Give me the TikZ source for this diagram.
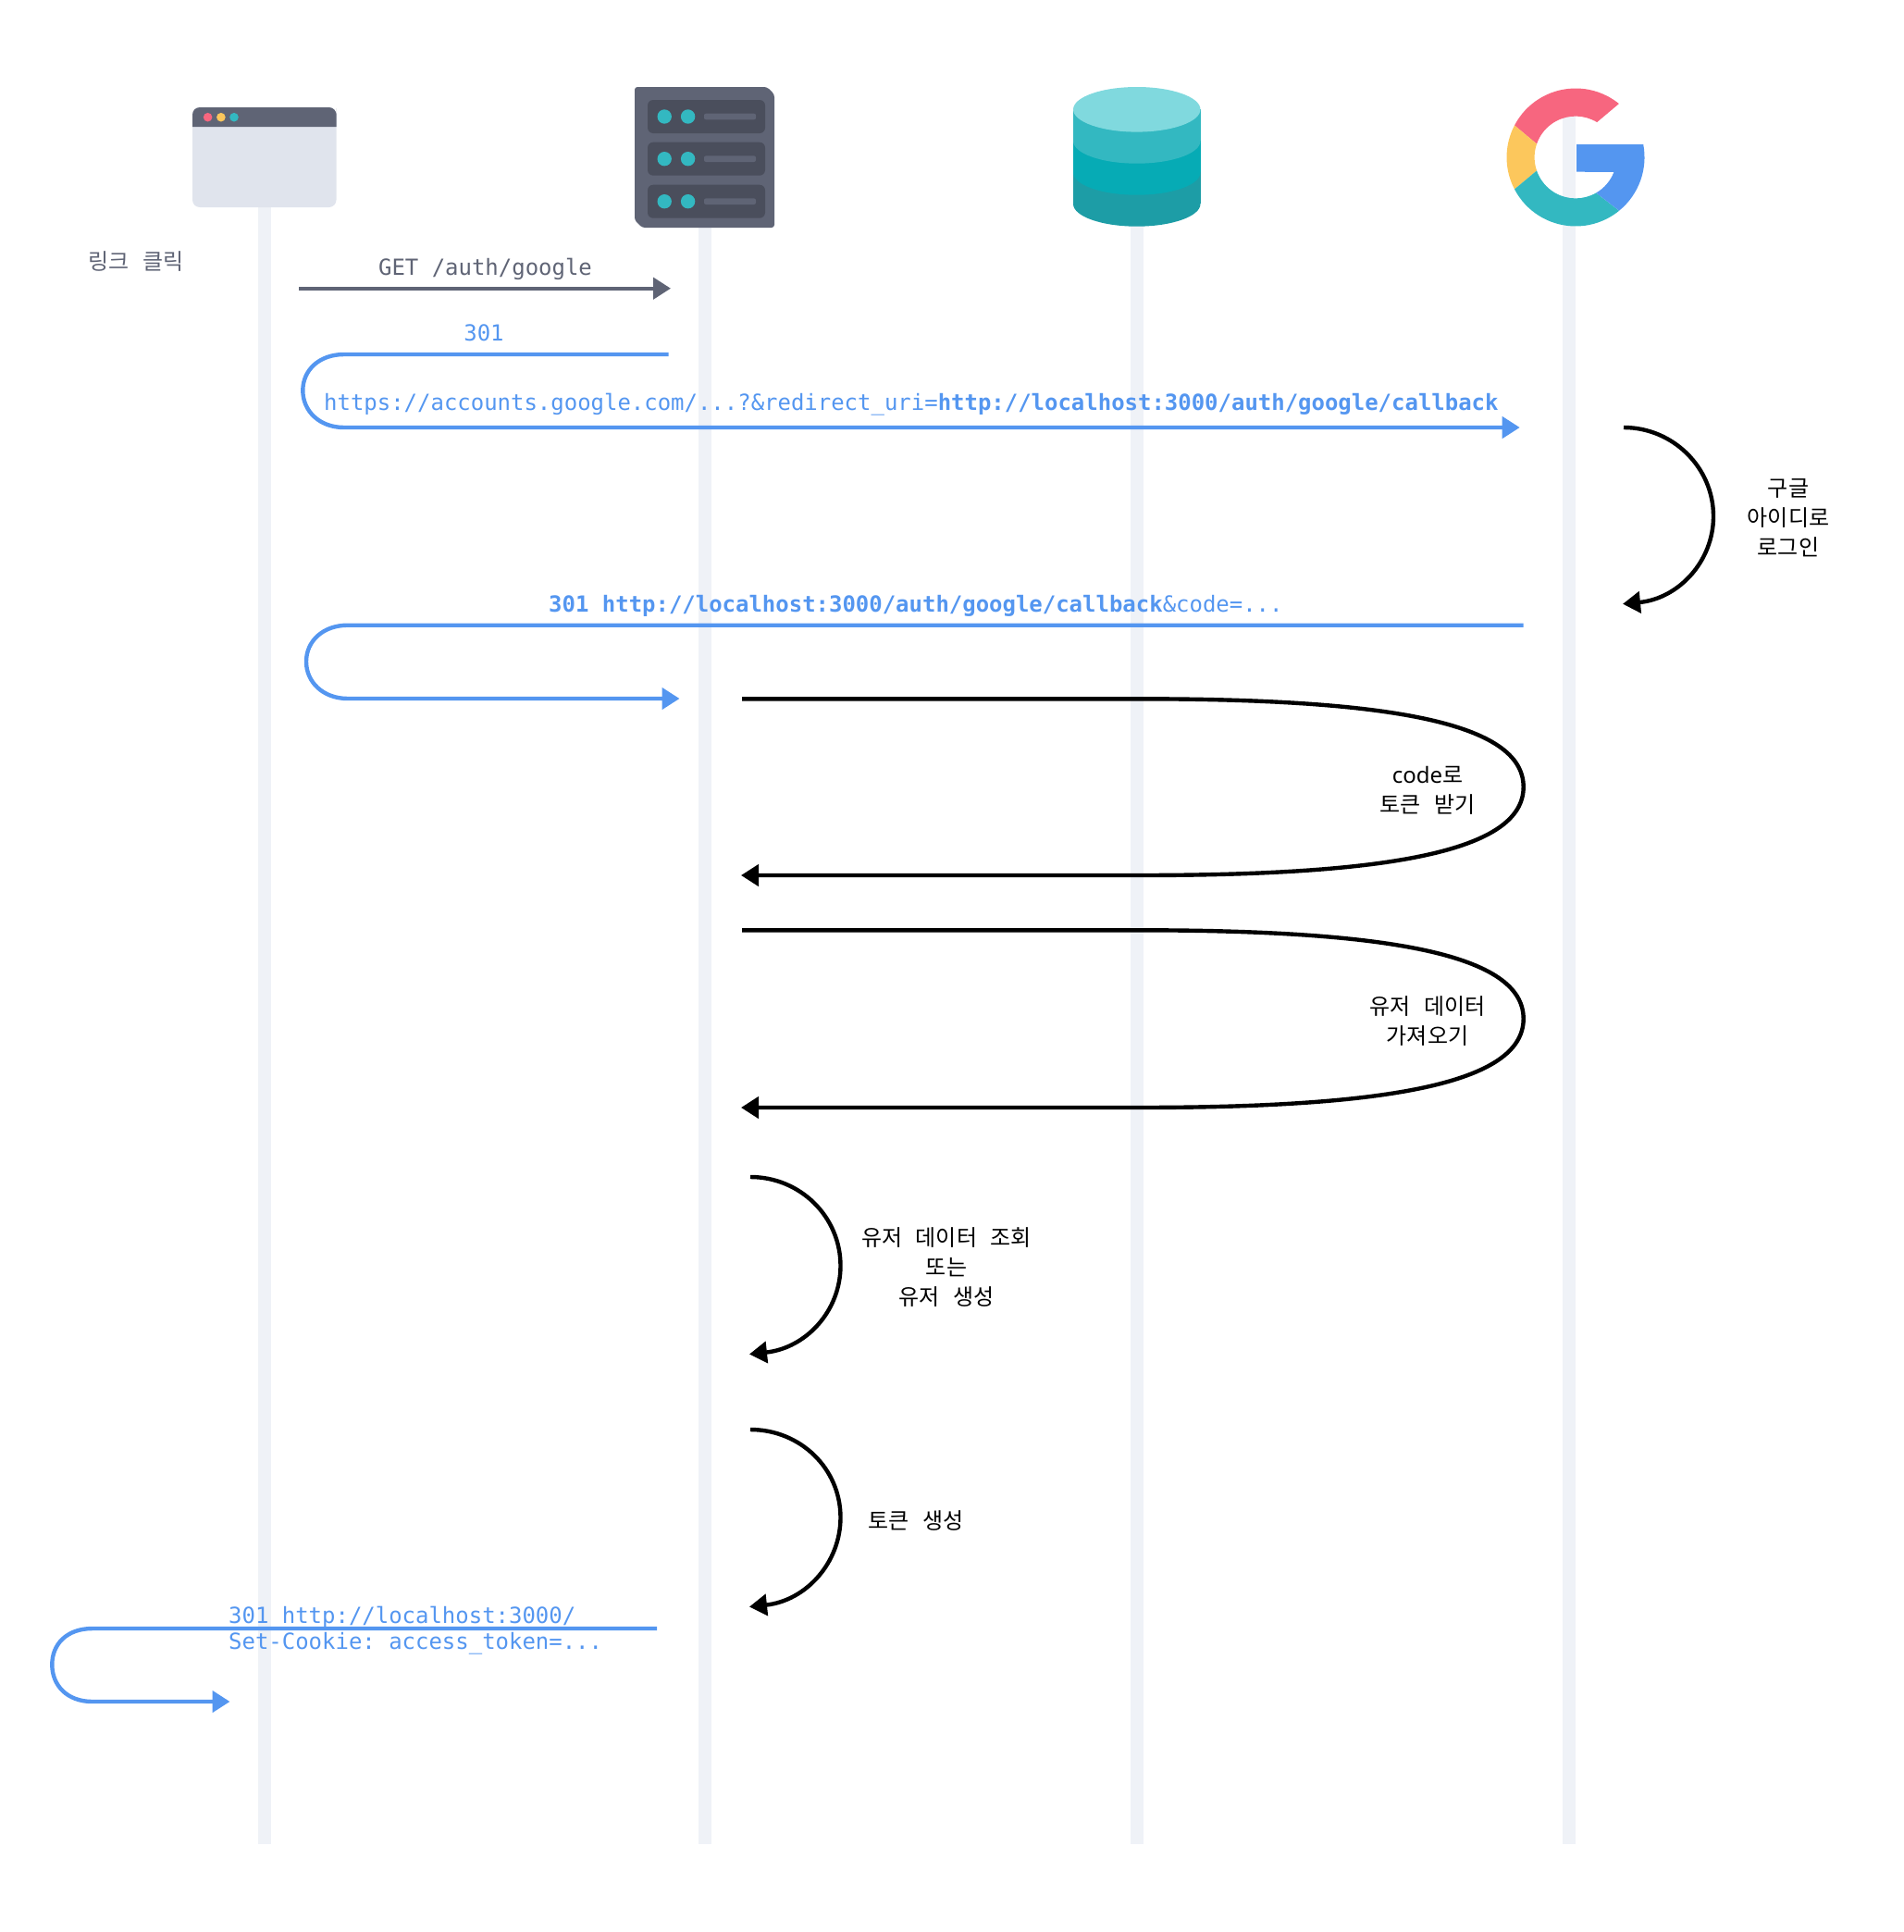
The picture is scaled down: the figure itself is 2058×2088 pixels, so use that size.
\documentclass[tikz,border=0pt]{standalone}
\usepackage{fontspec}
\usepackage{xcolor}
\setmainfont[WordSpace=2.7]{Noto Sans CJK KR}
\setmonofont{DejaVu Sans Mono}
\newfontfamily\latinfont{Noto Sans}
\usetikzlibrary{arrows.meta}

\definecolor{slate}{HTML}{5F6475}
\definecolor{slatedark}{HTML}{4A4E5C}
\definecolor{pale}{HTML}{E0E4ED}
\definecolor{lane}{HTML}{EFF2F7}
\definecolor{linkblue}{HTML}{5496F0}
\definecolor{tealmid}{HTML}{33B8C1}
\definecolor{rosy}{HTML}{F7667F}
\definecolor{amber}{HTML}{FCC75C}
\definecolor{tealpale}{HTML}{80D9DE}

\tikzset{
  lifeline/.style={line width=14pt,lane},
  grayarrow/.style={line width=4.4pt,slate,-{Triangle[length=19pt,width=23pt]}},
  bluearrow/.style={line width=4.4pt,linkblue,-{Triangle[length=19pt,width=23pt]}},
  blackarrow/.style={line width=4.4pt,black,-{Triangle[length=19pt,width=23pt]}},
  monotext/.style={font=\fontsize{23.96}{27.7}\selectfont\ttfamily,inner sep=0pt},
  steptext/.style={font=\fontsize{24}{32}\selectfont,align=center,inner sep=0pt},
}

\begin{document}
\begin{tikzpicture}[x=1pt,y=-1pt]
\useasboundingbox (0,0) rectangle (2058,2088);

% lifelines
\coordinate (browserTop) at (286,130);
\coordinate (browserEnd) at (286,1993.3);
\coordinate (serverTop) at (761.7,130);
\coordinate (serverEnd) at (761.7,1993.3);
\coordinate (dbTop) at (1229,130);
\coordinate (dbEnd) at (1229,1993.3);
\coordinate (googleTop) at (1695.5,110);
\coordinate (googleEnd) at (1695.5,1993.3);
\draw[lifeline] (browserTop) -- (browserEnd);
\draw[lifeline] (serverTop) -- (serverEnd);
\draw[lifeline] (dbTop) -- (dbEnd);
\draw[lifeline] (googleTop) -- (googleEnd);

% browser
\fill[pale,rounded corners=8pt] (208,116) rectangle (363.5,224);
\fill[slate,rounded corners=8pt] (208,137) -- (208,116) -- (363.5,116) -- (363.5,125) [sharp corners] -- (363.5,137) -- cycle;
\fill[rosy] (224.6,126.7) circle (4.8);
\fill[amber] (238.9,126.7) circle (4.8);
\fill[tealmid] (253,126.7) circle (4.8);

% server
\fill[slate,rounded corners=3pt] (692,94) -- (829,94) -- (837,102) -- (837,246) -- (694,246) -- (686,238) -- (686,94) -- cycle;
\foreach \y in {108,153.7,199.7} {
  \fill[slatedark,rounded corners=6pt] (700,\y) rectangle (827,\y+36);
  \fill[tealmid] (718.2,\y+18) circle (7.7);
  \fill[tealmid] (743.6,\y+18) circle (7.7);
  \fill[slate,rounded corners=2pt] (761,\y+14.7) rectangle (817,\y+21.3);
}

% database
\foreach \c/\d/\col in {186.4/220.4/1D9DA6,152.4/186.4/06ABB5,118.3/152.4/33B8C1} {
  \definecolor{layer}{HTML}{\col}
  \fill[layer] (1160,\c) rectangle (1297.5,\d);
  \fill[layer] (1228.75,\d) ellipse (68.75 and 24.3);
}
\fill[tealpale] (1228.75,118.3) ellipse (68.75 and 24.3);

% google
\begin{scope}[shift={(1703,170)},y=1pt]
\fill[rosy] (152.4:74.5) arc[start angle=152.4,end angle=51,radius=74.5] -- (58.6:44.4) arc[start angle=58.6,end angle=161,radius=44.4] -- cycle;
\fill[amber] (152.4:74.5) arc[start angle=152.4,end angle=207.6,radius=74.5] -- (199:44.4) arc[start angle=199,end angle=161,radius=44.4] -- cycle;
\fill[tealmid] (207.6:74.5) arc[start angle=207.6,end angle=309.2,radius=74.5] -- (300:44.4) arc[start angle=300,end angle=199,radius=44.4] -- cycle;
\fill[linkblue] (1.1,14) -- (73.2,14) arc[start angle=10.8,end angle=-50.8,radius=74.5] -- (-60:44.4) arc[start angle=-60,end angle=-21,radius=44.4] -- (1.1,-15.7) -- cycle;
\end{scope}

% first request
\node[steptext,text=slate] (clickText) at (147,283) {링크 클릭};
\coordinate (getStart) at (323,311.7);
\coordinate (getEnd) at (725,311.7);
\draw[grayarrow] (getStart) -- (getEnd);
\node[monotext,text=slate,anchor=base] (getText) at (524.5,297.3) {GET /auth/google};

% redirect to google
\coordinate (toGoogleStart) at (722.5,383);
\coordinate (toGoogleEnd) at (1642.7,462);
\draw[bluearrow] (toGoogleStart) -- (372,383) .. controls (345,383) and (327.3,400) .. (327.3,422) .. controls (327.3,444) and (345,462) .. (372,462) -- (toGoogleEnd);
\node[monotext,text=linkblue,anchor=base] (redirText) at (523,368) {301};
\node[monotext,text=linkblue,anchor=base west] (urlText) at (350,443.3) {https://accounts.google.com/...?\&redirect\_uri=\textbf{http://localhost:3000/auth/google/callback}};

% google login
\coordinate (loginStart) at (1755,462);
\coordinate (loginEnd) at (1754,652.7);
\draw[blackarrow] (loginStart) .. controls (1808,462) and (1852,505) .. (1852,558) .. controls (1852,607) and (1814,647) .. (loginEnd);
\node[steptext] (loginText) at (1933,560) {구글\\아이디로\\로그인};

% callback
\coordinate (backStart) at (1646.7,675.7);
\coordinate (backEnd) at (734.5,755);
\draw[bluearrow] (backStart) -- (376,675.7) .. controls (349,675.7) and (331,693) .. (331,715) .. controls (331,737) and (349,755) .. (376,755) -- (backEnd);
\node[monotext,text=linkblue,anchor=base west] (backText) at (593,661.3) {\textbf{301 http://localhost:3000/auth/google/callback}\&code=...};

% token exchange
\coordinate (tokenStart) at (802,755.3);
\coordinate (tokenEnd) at (801,946);
\draw[blackarrow] (tokenStart) -- (1230,755.3) .. controls (1500,755.3) and (1646.7,780.5) .. (1646.7,850.5) .. controls (1646.7,920.5) and (1500,946) .. (1230,946) -- (tokenEnd);
\node[steptext] (tokenText) at (1543,854) {{\latinfont code}로\\토큰 받기};

% user data
\coordinate (userStart) at (802,1005.3);
\coordinate (userEnd) at (801,1197);
\draw[blackarrow] (userStart) -- (1230,1005.3) .. controls (1500,1005.3) and (1646.7,1031) .. (1646.7,1101) .. controls (1646.7,1171) and (1500,1197) .. (1230,1197) -- (userEnd);
\node[steptext] (userText) at (1543,1103.5) {유저 데이터\\가져오기};

% lookup
\coordinate (lookupStart) at (811,1272);
\coordinate (lookupEnd) at (810,1463.5);
\draw[blackarrow] (lookupStart) .. controls (865,1272) and (908.5,1315) .. (908.5,1368) .. controls (908.5,1417) and (871,1457) .. (lookupEnd);
\node[steptext] (lookupText) at (1023,1370) {유저 데이터 조회\\또는\\유저 생성};

% token create
\coordinate (createStart) at (811,1545);
\coordinate (createEnd) at (810,1736.5);
\draw[blackarrow] (createStart) .. controls (865,1545) and (908.5,1587) .. (908.5,1640) .. controls (908.5,1689) and (871,1730) .. (createEnd);
\node[steptext] (createText) at (990,1643) {토큰 생성};

% cookie
\coordinate (cookieStart) at (710,1760);
\coordinate (cookieEnd) at (248.5,1839);
\draw[bluearrow] (cookieStart) -- (100,1760) .. controls (72,1760) and (56.3,1777) .. (56.3,1799) .. controls (56.3,1821) and (72,1839) .. (100,1839) -- (cookieEnd);
\node[monotext,text=linkblue,anchor=base west] (cookieTextA) at (247,1754) {301 http://localhost:3000/};
\node[monotext,text=linkblue,anchor=base west] (cookieTextB) at (247,1782.7) {Set-Cookie: access\_token=...};

\end{tikzpicture}
\end{document}
